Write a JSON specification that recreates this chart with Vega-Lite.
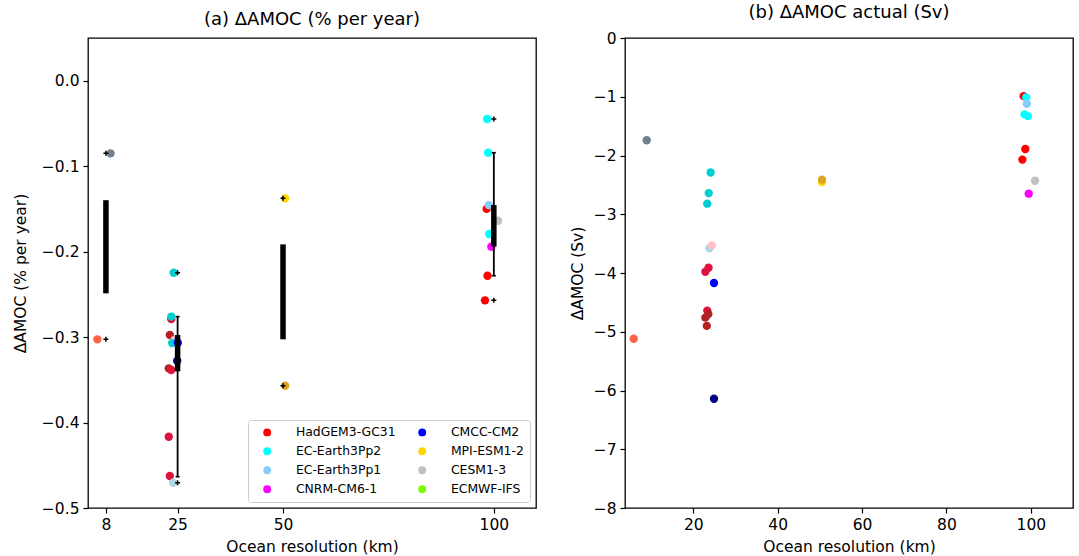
{
  "$schema": "https://vega.github.io/schema/vega-lite/v6.json",
  "padding": {"left": 12, "top": 3, "right": 5, "bottom": 5},
  "background": "white",
  "config": {
    "view": {"stroke": "black", "strokeWidth": 1.3},
    "axis": {"domain": false, "grid": false, "ticks": true, "tickColor": "black", "tickSize": 5, "tickWidth": 1.2,
      "labelFont": "DejaVu Sans", "labelFontSize": 15.5, "labelColor": "black", "labelPadding": 4, "labelFlush": false, "labelOverlap": false,
      "titleFont": "DejaVu Sans", "titleFontSize": 15.5, "titleFontWeight": "normal", "titleColor": "black", "titlePadding": 8},
    "title": {"font": "DejaVu Sans", "fontSize": 18, "fontWeight": "normal", "color": "black", "offset": 9, "anchor": "middle"}
  },
  "datasets": {
    "pct": [
      {"res": 9.1, "val": -0.085, "member": "CESM1-3-HR"},
      {"res": 5.97, "val": -0.3026, "member": "HadGEM3-GC31-HH"},
      {"res": 24.05, "val": -0.2247, "member": "EC-Earth3Pp2-HR"},
      {"res": 23.5, "val": -0.279, "member": "HadGEM3-GC31-HM"},
      {"res": 23.5, "val": -0.276, "member": "EC-Earth3Pp2-HR"},
      {"res": 23.15, "val": -0.2976, "member": "HadGEM3-GC31-MM"},
      {"res": 24.26, "val": -0.3034, "member": "CNRM-CM6-1-HR"},
      {"res": 23.7, "val": -0.307, "member": "EC-Earth3Pp2-HR"},
      {"res": 25.05, "val": -0.3066, "member": "CMCC-CM2-VHR4"},
      {"res": 24.9, "val": -0.3277, "member": "CMCC-CM2-VHR4 (2)"},
      {"res": 22.9, "val": -0.3366, "member": "HadGEM3-GC31-MM"},
      {"res": 23.5, "val": -0.3385, "member": "HadGEM3-GC31-HM"},
      {"res": 22.9, "val": -0.4166, "member": "HadGEM3-GC31-HM"},
      {"res": 23.15, "val": -0.4626, "member": "HadGEM3-GC31-HM"},
      {"res": 23.95, "val": -0.4704, "member": "EC-Earth3Pp1-HR"},
      {"res": 50.5, "val": -0.1376, "member": "MPI-ESM1-2-HR"},
      {"res": 50.5, "val": -0.3569, "member": "MPI-ESM1-2-XR"},
      {"res": 98.4, "val": -0.0448, "member": "EC-Earth3Pp2-LR"},
      {"res": 98.65, "val": -0.0842, "member": "EC-Earth3Pp2-LR"},
      {"res": 98.3, "val": -0.15, "member": "HadGEM3-GC31-LL"},
      {"res": 98.8, "val": -0.1455, "member": "EC-Earth3Pp1-LR"},
      {"res": 101.0, "val": -0.1638, "member": "CESM1-3-LR"},
      {"res": 98.9, "val": -0.1794, "member": "EC-Earth3Pp2-LR"},
      {"res": 99.4, "val": -0.1942, "member": "CNRM-CM6-1-LR"},
      {"res": 98.5, "val": -0.2282, "member": "HadGEM3-GC31-LL"},
      {"res": 97.9, "val": -0.257, "member": "HadGEM3-GC31-LL"}
    ],
    "sv": [
      {"res": 8.95, "val": -1.74, "member": "CESM1-3-HR"},
      {"res": 24.1, "val": -2.29, "member": "EC-Earth3Pp2-HR"},
      {"res": 23.65, "val": -2.64, "member": "EC-Earth3Pp2-HR"},
      {"res": 23.3, "val": -2.82, "member": "EC-Earth3Pp2-HR"},
      {"res": 23.8, "val": -3.58, "member": "EC-Earth3Pp1-HR"},
      {"res": 24.4, "val": -3.53, "member": "CNRM-CM6-1-HR"},
      {"res": 23.6, "val": -3.91, "member": "HadGEM3-GC31-HM"},
      {"res": 22.85, "val": -3.98, "member": "HadGEM3-GC31-HM"},
      {"res": 24.9, "val": -4.17, "member": "CMCC-CM2-VHR4"},
      {"res": 23.3, "val": -4.64, "member": "HadGEM3-GC31-HM"},
      {"res": 23.55, "val": -4.7, "member": "HadGEM3-GC31-MM"},
      {"res": 22.85, "val": -4.76, "member": "HadGEM3-GC31-MM"},
      {"res": 23.2, "val": -4.9, "member": "HadGEM3-GC31-MM"},
      {"res": 5.87, "val": -5.12, "member": "HadGEM3-GC31-HH"},
      {"res": 24.9, "val": -6.14, "member": "CMCC-CM2-VHR4 (2)"},
      {"res": 50.5, "val": -2.45, "member": "MPI-ESM1-2-HR"},
      {"res": 50.5, "val": -2.41, "member": "MPI-ESM1-2-XR"},
      {"res": 98.3, "val": -0.99, "member": "HadGEM3-GC31-LL"},
      {"res": 98.9, "val": -1.01, "member": "EC-Earth3Pp2-LR"},
      {"res": 99.05, "val": -1.12, "member": "EC-Earth3Pp1-LR"},
      {"res": 98.5, "val": -1.3, "member": "EC-Earth3Pp2-LR"},
      {"res": 99.3, "val": -1.33, "member": "EC-Earth3Pp2-LR"},
      {"res": 98.7, "val": -1.89, "member": "HadGEM3-GC31-LL"},
      {"res": 98.0, "val": -2.07, "member": "HadGEM3-GC31-LL"},
      {"res": 101.0, "val": -2.43, "member": "CESM1-3-LR"},
      {"res": 99.5, "val": -2.65, "member": "CNRM-CM6-1-LR"}
    ],
    "boxes": [
      {"res": 8, "lo": -0.2488, "hi": -0.1398},
      {"res": 25, "lo": -0.34, "hi": -0.2976},
      {"res": 50, "lo": -0.3026, "hi": -0.1915},
      {"res": 100, "lo": -0.194, "hi": -0.1455}
    ],
    "whiskers": [
      {"res": 25, "lo": -0.4634, "hi": -0.276},
      {"res": 100, "lo": -0.2282, "hi": -0.0842}
    ],
    "fliers": [
      {"res": 8, "val": -0.085},
      {"res": 8, "val": -0.3026},
      {"res": 25, "val": -0.2247},
      {"res": 25, "val": -0.4704},
      {"res": 50, "val": -0.1376},
      {"res": 50, "val": -0.3569},
      {"res": 100, "val": -0.0448},
      {"res": 100, "val": -0.257}
    ],
    "models": [
      {"model": "HadGEM3-GC31"},
      {"model": "EC-Earth3Pp2"},
      {"model": "EC-Earth3Pp1"},
      {"model": "CNRM-CM6-1"},
      {"model": "CMCC-CM2"},
      {"model": "MPI-ESM1-2"},
      {"model": "CESM1-3"},
      {"model": "ECMWF-IFS"}
    ]
  },
  "bounds": "flush",
  "spacing": 89,
  "resolve": {"scale": {"color": "independent"}, "legend": {"color": "independent", "fill": "independent"}},
  "hconcat": [
    {
      "width": 448,
      "height": 470,
      "title": {"text": "(a) ΔAMOC (% per year)"},
      "layer": [
        {
          "data": {"name": "pct"},
          "mark": {"type": "circle", "size": 70, "opacity": 1},
          "encoding": {
            "x": {"field": "res", "type": "quantitative", "scale": {"domain": [3.75, 110], "nice": false, "zero": false},
              "axis": {"values": [8, 25, 50, 100], "title": "Ocean resolution (km)", "titlePadding": 7}},
            "y": {"field": "val", "type": "quantitative", "scale": {"domain": [-0.5, 0.05], "nice": false, "zero": false},
              "axis": {"values": [-0.5, -0.4, -0.3, -0.2, -0.1, 0.0], "format": ".1f", "title": "ΔAMOC (% per year)", "titlePadding": 13}},
            "fill": {"field": "member", "type": "nominal", "legend": null,
              "scale": {
                "domain": ["HadGEM3-GC31-HH", "CESM1-3-HR", "HadGEM3-GC31-HM", "HadGEM3-GC31-MM", "EC-Earth3Pp2-HR", "EC-Earth3Pp1-HR", "CNRM-CM6-1-HR", "CMCC-CM2-VHR4", "CMCC-CM2-VHR4 (2)", "MPI-ESM1-2-XR", "MPI-ESM1-2-HR", "HadGEM3-GC31-LL", "EC-Earth3Pp2-LR", "EC-Earth3Pp1-LR", "CNRM-CM6-1-LR", "CESM1-3-LR"],
                "range": ["#ff6347", "#708090", "#dc143c", "#b22222", "#00ced1", "#add8e6", "#ffc0cb", "#0000ff", "#000080", "#daa520", "#ffd700", "#ff0000", "#00ffff", "#87cefa", "#ff00ff", "#c0c0c0"]
              }}
          }
        },
        {
          "data": {"name": "boxes"},
          "mark": {"type": "rule", "strokeWidth": 5.5, "color": "black", "strokeCap": "butt"},
          "encoding": {
            "x": {"field": "res", "type": "quantitative"},
            "y": {"field": "lo", "type": "quantitative"},
            "y2": {"field": "hi"}
          }
        },
        {
          "data": {"name": "whiskers"},
          "mark": {"type": "rule", "strokeWidth": 1.8, "color": "black"},
          "encoding": {
            "x": {"field": "res", "type": "quantitative"},
            "y": {"field": "lo", "type": "quantitative"},
            "y2": {"field": "hi"}
          }
        },
        {
          "data": {"name": "whiskers"},
          "transform": [{"fold": ["lo", "hi"], "as": ["end", "cap"]}],
          "mark": {"type": "tick", "orient": "horizontal", "size": 4, "thickness": 1.6, "color": "black", "opacity": 1},
          "encoding": {
            "x": {"field": "res", "type": "quantitative"},
            "y": {"field": "cap", "type": "quantitative"}
          }
        },
        {
          "data": {"name": "fliers"},
          "mark": {"type": "point", "shape": "M-1,0H1M0,-1V1", "filled": false, "size": 25, "stroke": "black", "strokeWidth": 1.5, "opacity": 1},
          "encoding": {
            "x": {"field": "res", "type": "quantitative"},
            "y": {"field": "val", "type": "quantitative"}
          }
        },
        {
          "data": {"name": "models"},
          "mark": {"type": "circle", "opacity": 0},
          "encoding": {
            "color": {"field": "model", "type": "nominal",
              "scale": {
                "domain": ["HadGEM3-GC31", "EC-Earth3Pp2", "EC-Earth3Pp1", "CNRM-CM6-1", "CMCC-CM2", "MPI-ESM1-2", "CESM1-3", "ECMWF-IFS"],
                "range": ["#ff0000", "#00ffff", "#87cefa", "#ff00ff", "#0000ff", "#ffd700", "#c0c0c0", "#7cfc00"]
              },
              "legend": {"title": null, "orient": "bottom-right", "offset": 6, "columns": 2, "columnPadding": 13, "rowPadding": 6,
                "padding": 6, "symbolOffset": 7, "labelOffset": 22.5, "symbolSize": 62, "symbolType": "circle", "symbolStrokeWidth": 0,
                "symbolOpacity": 1, "labelFontSize": 12.4, "labelFont": "DejaVu Sans", "labelColor": "black",
                "strokeColor": "#cccccc", "fillColor": "rgba(255,255,255,0.8)", "cornerRadius": 3}}
          }
        }
      ]
    },
    {
      "width": 448,
      "height": 470,
      "title": {"text": "(b) ΔAMOC actual (Sv)"},
      "data": {"name": "sv"},
      "mark": {"type": "circle", "size": 70, "opacity": 1},
      "encoding": {
        "x": {"field": "res", "type": "quantitative", "scale": {"domain": [3.8, 110], "nice": false, "zero": false},
          "axis": {"values": [20, 40, 60, 80, 100], "title": "Ocean resolution (km)", "titlePadding": 7}},
        "y": {"field": "val", "type": "quantitative", "scale": {"domain": [-8, 0], "nice": false, "zero": false},
          "axis": {"values": [-8, -7, -6, -5, -4, -3, -2, -1, 0], "format": "d", "title": "ΔAMOC (Sv)", "titlePadding": 8}},
        "fill": {"field": "member", "type": "nominal", "legend": null}
      }
    }
  ]
}
